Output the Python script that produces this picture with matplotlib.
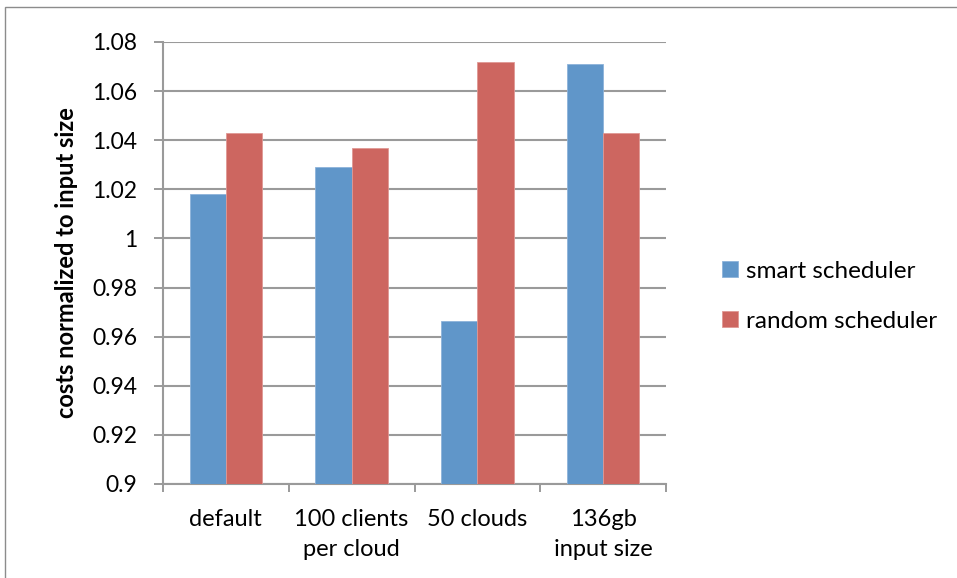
import numpy as np
import matplotlib.pyplot as plt
from matplotlib.patches import Rectangle

plt.rcParams['font.family'] = ['Lato', 'DejaVu Sans']

categories = ['default', '100 clients\nper cloud', '50 clouds', '136gb\ninput size']
smart = [1.018, 1.029, 0.9665, 1.071]
random_sched = [1.043, 1.037, 1.072, 1.043]
series_names = ['smart scheduler', 'random scheduler']
yticks = [0.9, 0.92, 0.94, 0.96, 0.98, 1.0, 1.02, 1.04, 1.06, 1.08]
ytick_labels = ['0.9', '0.92', '0.94', '0.96', '0.98', '1', '1.02', '1.04', '1.06', '1.08']

blue = '#6096C9'
red = '#CD6660'
grid = '#9A9A9A'

fig = plt.figure(figsize=(9.57, 5.78), dpi=100)
# outer chart border
fig.patches.append(Rectangle((5 / 957, -0.1), 1.2, 1 - 7 / 578 + 0.1,
                             transform=fig.transFigure, fill=False,
                             edgecolor='#8C8C8C', linewidth=1.0))

ax = fig.add_axes([163 / 957, 1 - 484 / 578, (666 - 163) / 957, (484 - 42) / 578])

x = np.arange(len(categories))
w = 0.288
ax.bar(x - w / 2, np.array(smart) - 0.9, w, bottom=0.9, color=blue,
       edgecolor='#8DB3DA', linewidth=0.6, label=series_names[0], zorder=3)
ax.bar(x + w / 2, np.array(random_sched) - 0.9, w, bottom=0.9, color=red,
       edgecolor='#E09894', linewidth=0.6, label=series_names[1], zorder=3)

ax.set_xlim(-0.5, len(categories) - 0.5)
ax.set_ylim(0.9, 1.08)
ax.set_yticks(yticks)
ax.set_yticklabels(ytick_labels, fontsize=16.5)
ax.yaxis.grid(True, color=grid, linewidth=1.5, zorder=0)

ax.set_xticks(x)
ax.set_xticklabels(categories, fontsize=17, linespacing=1.5)
ax.set_xticks(np.arange(len(categories) + 1) - 0.5, minor=True)
ax.tick_params(axis='x', which='major', length=0, pad=18)
ax.tick_params(axis='x', which='minor', length=6, color=grid, width=1.4)
ax.tick_params(axis='y', length=6.5, color=grid, width=1.4, pad=12)

for s in ['top', 'right']:
    ax.spines[s].set_visible(False)
for s in ['left', 'bottom']:
    ax.spines[s].set_color(grid)
    ax.spines[s].set_linewidth(1.5)

ax.set_ylabel('costs normalized to input size', fontsize=17, fontweight='bold', labelpad=10)

ax.legend(loc='center left', bbox_to_anchor=(1.068, 0.425), frameon=False,
          fontsize=17.5, handlelength=0.65, handleheight=0.65, handletextpad=0.35,
          labelspacing=1.2)

fig.savefig('out.png', dpi=100)
